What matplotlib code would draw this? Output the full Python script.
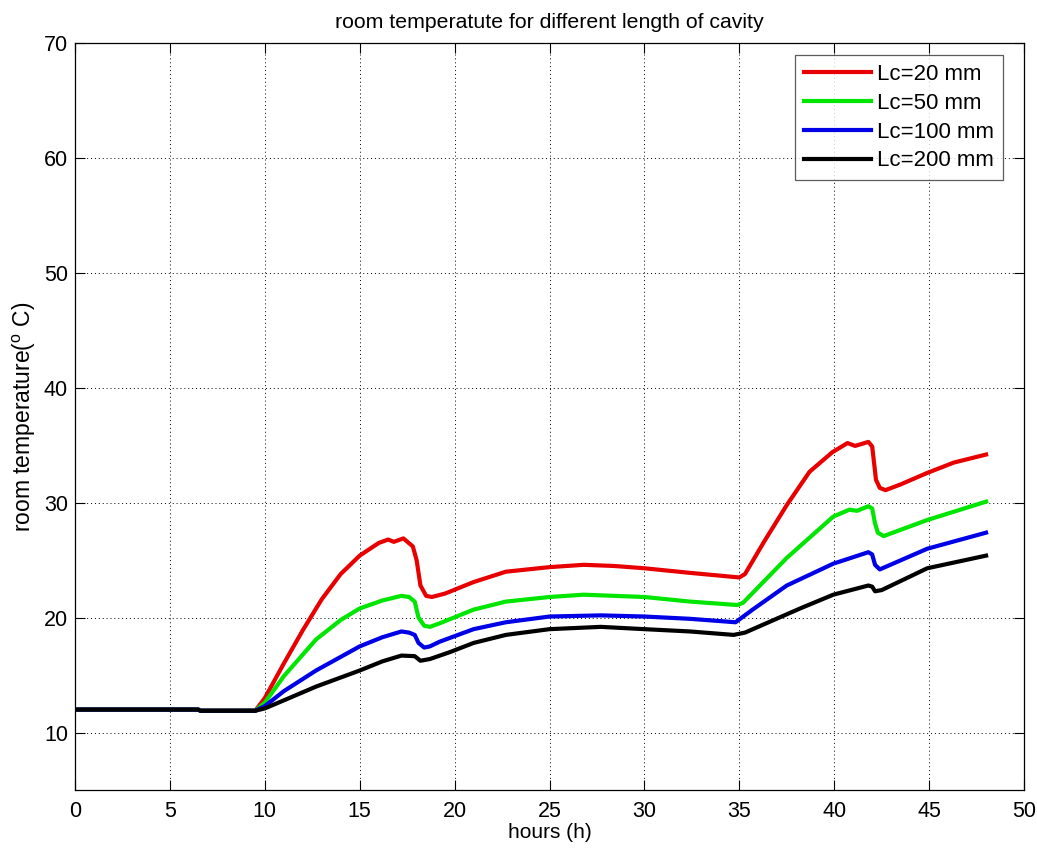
import matplotlib
matplotlib.use("Agg")
import matplotlib.pyplot as plt

plt.rcParams['font.family'] = ['Liberation Sans', 'DejaVu Sans']
plt.rcParams['mathtext.default'] = 'regular'

# Room temperature (deg C) versus time (h) for four cavity lengths
hours_20 = [0, 6.5, 6.6, 9.5, 10, 11, 12, 13, 14, 15, 16, 16.5, 16.8, 17.3, 17.8, 18.0,
            18.2, 18.5, 18.8, 19.5, 21, 22.7, 25, 26.8, 28.4, 30, 32.4, 35, 35.3, 36.3,
            37.5, 38.7, 39.9, 40.7, 41.1, 41.8, 42.0, 42.2, 42.4, 42.7, 43.5, 44.9, 46.3, 48]
temp_20 = [12.0, 12.0, 11.9, 11.9, 13.0, 16.0, 18.9, 21.6, 23.8, 25.4, 26.5, 26.8, 26.6, 26.9, 26.2, 25.0,
           22.8, 21.9, 21.8, 22.1, 23.1, 24.0, 24.4, 24.6, 24.5, 24.3, 23.9, 23.5, 23.8, 26.6,
           29.8, 32.7, 34.4, 35.2, 34.95, 35.3, 34.9, 32.0, 31.3, 31.1, 31.6, 32.6, 33.5, 34.2]

hours_50 = [0, 6.5, 6.6, 9.5, 10, 11, 12.7, 14, 15, 16.2, 17.2, 17.6, 17.9, 18.1, 18.4, 18.7,
            19.2, 21, 22.7, 25, 26.8, 30, 32.4, 34.9, 35.2, 37.5, 39.95, 40.8, 41.2, 41.8,
            42.0, 42.15, 42.3, 42.6, 44.9, 48]
temp_50 = [12.0, 12.0, 11.9, 11.9, 12.6, 14.9, 18.1, 19.8, 20.8, 21.5, 21.9, 21.8, 21.4, 20.0, 19.3, 19.2,
           19.5, 20.7, 21.4, 21.8, 22.0, 21.8, 21.4, 21.1, 21.3, 25.2, 28.8, 29.4, 29.3, 29.7,
           29.5, 28.2, 27.4, 27.1, 28.5, 30.1]

hours_100 = [0, 6.5, 6.6, 9.5, 10, 11, 12.7, 15, 16.2, 17.2, 17.6, 17.9, 18.1, 18.4, 18.7, 19.2,
             21, 22.7, 25, 27.7, 30, 32.4, 34.8, 35.7, 37.5, 39.95, 41.8, 42.0, 42.15, 42.4,
             44.9, 48]
temp_100 = [12.0, 12.0, 11.9, 11.9, 12.3, 13.6, 15.4, 17.5, 18.3, 18.8, 18.7, 18.5, 17.8, 17.4, 17.5, 17.9,
            19.0, 19.6, 20.1, 20.2, 20.1, 19.9, 19.6, 20.7, 22.8, 24.7, 25.7, 25.5, 24.6, 24.2,
            26.0, 27.4]

hours_200 = [0, 6.5, 6.6, 9.5, 10, 11, 12.7, 15, 16.2, 17.2, 17.9, 18.2, 18.7, 19.75, 21, 22.7,
             25, 27.7, 30, 32.4, 34.7, 35.3, 38.2, 39.95, 41.8, 42.0, 42.15, 42.5, 44.9, 48]
temp_200 = [12.0, 12.0, 11.9, 11.9, 12.1, 12.8, 14.0, 15.4, 16.2, 16.7, 16.65, 16.25, 16.4, 17.0, 17.8, 18.5,
            19.0, 19.2, 19.0, 18.8, 18.5, 18.7, 20.8, 22.0, 22.8, 22.7, 22.3, 22.4, 24.3, 25.4]

labels = ['Lc=20 mm', 'Lc=50 mm', 'Lc=100 mm', 'Lc=200 mm']
colors = ['#e80000', '#00e600', '#0000e6', '#000000']

x_ticks = list(range(0, 51, 5))
y_ticks = [10, 20, 30, 40, 50, 60, 70]

fig = plt.figure(figsize=(10.37, 8.48), dpi=100)
ax = fig.add_axes([0.0723, 0.0684, 0.9152, 0.8806])

series = [(hours_20, temp_20), (hours_50, temp_50), (hours_100, temp_100), (hours_200, temp_200)]
for (h, t), lab, col in zip(series, labels, colors):
    ax.plot(h, t, color=col, linewidth=3, label=lab, solid_joinstyle='round')

ax.set_xlim(0, 50)
ax.set_ylim(5, 70)
ax.set_xticks(x_ticks)
ax.set_yticks(y_ticks)
ax.tick_params(direction='in', top=True, right=True, length=7, width=0.8, labelsize=15.5)
ax.tick_params(axis='x', pad=8)
ax.tick_params(axis='y', pad=5)
ax.grid(True, linestyle=(0, (1, 3)), color='black', linewidth=0.7)
for s in ax.spines.values():
    s.set_linewidth(0.9)

ax.set_title('room temperatute for different length of cavity', fontsize=15.3, pad=11)
ax.set_xlabel('hours (h)', fontsize=15, labelpad=1)
ax.set_ylabel('room temperature($^o$ C)', fontsize=16.5, labelpad=4)

leg = ax.legend(loc='upper right', bbox_to_anchor=(0.978, 0.984), borderaxespad=0,
                fontsize=16, frameon=True, fancybox=False,
                handlelength=3.0, handletextpad=0.3, borderpad=0.4, labelspacing=0.35)
leg.get_frame().set_edgecolor('#333333')
leg.get_frame().set_linewidth(0.9)

fig.savefig('out.png', dpi=100)
